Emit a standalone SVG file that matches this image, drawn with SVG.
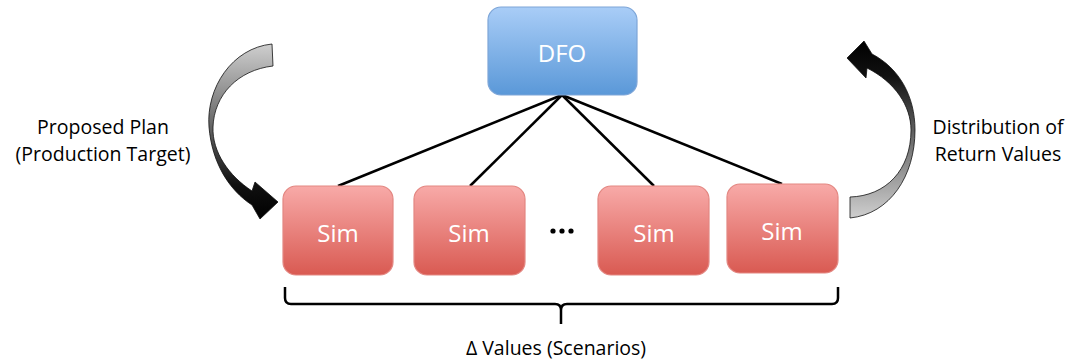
<svg xmlns="http://www.w3.org/2000/svg" width="1073" height="360" viewBox="0 0 1073 360">
<defs>
<linearGradient id="gBlue" x1="0" y1="0" x2="0" y2="1">
<stop offset="0" stop-color="#a9cdf7"/>
<stop offset="1" stop-color="#5a98d8"/>
</linearGradient>
<linearGradient id="gRed" x1="0" y1="0" x2="0" y2="1">
<stop offset="0" stop-color="#f8aaa8"/>
<stop offset="1" stop-color="#d95a52"/>
</linearGradient>
<linearGradient id="gArrL" x1="0" y1="0" x2="0" y2="1">
<stop offset="0" stop-color="#cfcfcf"/>
<stop offset="0.45" stop-color="#6a6a6a"/>
<stop offset="0.8" stop-color="#111111"/>
<stop offset="1" stop-color="#000000"/>
</linearGradient>
<linearGradient id="gArrR" x1="0" y1="0" x2="0" y2="1">
<stop offset="0" stop-color="#000000"/>
<stop offset="0.2" stop-color="#111111"/>
<stop offset="0.55" stop-color="#6a6a6a"/>
<stop offset="1" stop-color="#cfcfcf"/>
</linearGradient>
</defs>
<style>
.blue{fill:url(#gBlue);stroke:#7ea6d8;stroke-width:1.2}
.red{fill:url(#gRed);stroke:#e38782;stroke-width:1.2}
.nt{font-family:"Open Sans","Liberation Sans",sans-serif;font-size:24px;fill:#ffffff;text-anchor:middle}
.lbl{font-family:"Open Sans","Liberation Sans",sans-serif;font-size:19.5px;fill:#000000;text-anchor:middle}
.conn{stroke:#000;stroke-width:2.5;fill:none}
.arr{stroke:#111;stroke-width:0.8}
</style>
<g id="connectors">
<line class="conn" x1="562" y1="95" x2="338" y2="186"/>
<line class="conn" x1="562" y1="95" x2="470" y2="186"/>
<line class="conn" x1="562" y1="95" x2="654" y2="186"/>
<line class="conn" x1="562" y1="95" x2="782" y2="184"/>
</g>
<g id="dfo">
<rect class="blue" x="488" y="7" width="149" height="88" rx="13"/>
<text class="nt" x="562" y="62">DFO</text>
</g>
<g id="sim1">
<rect class="red" x="283" y="186" width="110" height="89" rx="13"/>
<text class="nt" x="338" y="242">Sim</text>
</g>
<g id="sim2">
<rect class="red" x="414" y="186" width="111" height="89" rx="13"/>
<text class="nt" x="469" y="242">Sim</text>
</g>
<g id="dots">
<circle cx="553" cy="231" r="2.6"/>
<circle cx="562" cy="231" r="2.6"/>
<circle cx="571" cy="231" r="2.6"/>
</g>
<g id="sim3">
<rect class="red" x="598" y="186" width="111" height="89" rx="13"/>
<text class="nt" x="654" y="242">Sim</text>
</g>
<g id="sim4">
<rect class="red" x="727" y="184" width="111" height="89" rx="13"/>
<text class="nt" x="782" y="240">Sim</text>
</g>
<g id="arrow-left">
<path class="arr" fill="url(#gArrL)" d="M272,44 C232,48 206,88 209,127 C212,163 229,190 252,205 L260,219 L278,202 L255,182 L252,191 C229,176 212,152 213,127 C214,95 238,70 273,66 Z"/>
</g>
<g id="arrow-right">
<path class="arr" fill="url(#gArrR)" d="M850,218 C890,214 915,176 915,130 C915,96 899,68 872,54 L864,41 L847,58 L866,78 L867,68 C895,82 911,106 911,130 C911,170 886,196 850,197 Z"/>
</g>
<g id="brace">
<path class="conn" d="M285,287 L285,298 Q285,304 291,304 L555,304 Q561,304 561,310 L561,324 M561,310 Q561,304 567,304 L832,304 Q838,304 838,298 L838,287"/>
</g>
<g id="labels">
<text class="lbl" x="103" y="134">Proposed Plan</text>
<text class="lbl" x="103" y="161">(Production Target)</text>
<text class="lbl" x="998" y="134">Distribution of</text>
<text class="lbl" x="998" y="161">Return Values</text>
<text class="lbl" x="556" y="355">Δ Values (Scenarios)</text>
</g>
</svg>
